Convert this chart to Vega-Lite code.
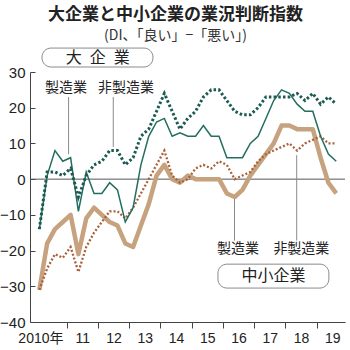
{
  "$schema": "https://vega.github.io/schema/vega-lite/v6.json",
  "width": 315,
  "height": 250,
  "autosize": "none",
  "padding": {"left": 30, "top": 72, "right": 5, "bottom": 28},
  "background": "white",
  "config": {"view": {"stroke": null}},
  "title": {
    "text": "大企業と中小企業の業況判断指数",
    "subtitle": "(DI、「良い」−「悪い」)",
    "anchor": "middle",
    "frame": "group",
    "dx": -12,
    "offset": 4,
    "font": "Noto Sans CJK JP",
    "fontSize": 17,
    "fontWeight": "bold",
    "color": "#222",
    "subtitleFont": "Noto Sans CJK JP",
    "subtitleFontSize": 14,
    "subtitleColor": "#333",
    "subtitlePadding": 5
  },
  "datasets": {
    "series": [
      {"t":2010.125,"s":"LM","v":-14},{"t":2010.375,"s":"LM","v":1},{"t":2010.625,"s":"LM","v":8},{"t":2010.875,"s":"LM","v":5},
      {"t":2011.125,"s":"LM","v":6},{"t":2011.375,"s":"LM","v":-9},{"t":2011.625,"s":"LM","v":2},{"t":2011.875,"s":"LM","v":-4},
      {"t":2012.125,"s":"LM","v":-4},{"t":2012.375,"s":"LM","v":-1},{"t":2012.625,"s":"LM","v":-3},{"t":2012.875,"s":"LM","v":-12},
      {"t":2013.125,"s":"LM","v":-8},{"t":2013.375,"s":"LM","v":4},{"t":2013.625,"s":"LM","v":12},{"t":2013.875,"s":"LM","v":16},
      {"t":2014.125,"s":"LM","v":17},{"t":2014.375,"s":"LM","v":12},{"t":2014.625,"s":"LM","v":13},{"t":2014.875,"s":"LM","v":12},
      {"t":2015.125,"s":"LM","v":12},{"t":2015.375,"s":"LM","v":15},{"t":2015.625,"s":"LM","v":12},{"t":2015.875,"s":"LM","v":12},
      {"t":2016.125,"s":"LM","v":6},{"t":2016.375,"s":"LM","v":6},{"t":2016.625,"s":"LM","v":6},{"t":2016.875,"s":"LM","v":10},
      {"t":2017.125,"s":"LM","v":12},{"t":2017.375,"s":"LM","v":17},{"t":2017.625,"s":"LM","v":22},{"t":2017.875,"s":"LM","v":25},
      {"t":2018.125,"s":"LM","v":24},{"t":2018.375,"s":"LM","v":21},{"t":2018.625,"s":"LM","v":19},{"t":2018.875,"s":"LM","v":19},
      {"t":2019.125,"s":"LM","v":12},{"t":2019.375,"s":"LM","v":7},{"t":2019.625,"s":"LM","v":5},

      {"t":2010.125,"s":"LN","v":-14},{"t":2010.375,"s":"LN","v":2},{"t":2010.625,"s":"LN","v":2},{"t":2010.875,"s":"LN","v":1},
      {"t":2011.125,"s":"LN","v":3},{"t":2011.375,"s":"LN","v":-5},{"t":2011.625,"s":"LN","v":1},{"t":2011.875,"s":"LN","v":4},
      {"t":2012.125,"s":"LN","v":5},{"t":2012.375,"s":"LN","v":8},{"t":2012.625,"s":"LN","v":8},{"t":2012.875,"s":"LN","v":4},
      {"t":2013.125,"s":"LN","v":6},{"t":2013.375,"s":"LN","v":12},{"t":2013.625,"s":"LN","v":14},{"t":2013.875,"s":"LN","v":19},
      {"t":2014.125,"s":"LN","v":24},{"t":2014.375,"s":"LN","v":19},{"t":2014.625,"s":"LN","v":14},{"t":2014.875,"s":"LN","v":17},
      {"t":2015.125,"s":"LN","v":19},{"t":2015.375,"s":"LN","v":23},{"t":2015.625,"s":"LN","v":25},{"t":2015.875,"s":"LN","v":25},
      {"t":2016.125,"s":"LN","v":22},{"t":2016.375,"s":"LN","v":19},{"t":2016.625,"s":"LN","v":18},{"t":2016.875,"s":"LN","v":18},
      {"t":2017.125,"s":"LN","v":20},{"t":2017.375,"s":"LN","v":23},{"t":2017.625,"s":"LN","v":23},{"t":2017.875,"s":"LN","v":23},
      {"t":2018.125,"s":"LN","v":23},{"t":2018.375,"s":"LN","v":24},{"t":2018.625,"s":"LN","v":22},{"t":2018.875,"s":"LN","v":24},
      {"t":2019.125,"s":"LN","v":21},{"t":2019.375,"s":"LN","v":23},{"t":2019.625,"s":"LN","v":21},

      {"t":2010.125,"s":"SM","v":-31},{"t":2010.375,"s":"SM","v":-18},{"t":2010.625,"s":"SM","v":-14},{"t":2010.875,"s":"SM","v":-12},
      {"t":2011.125,"s":"SM","v":-10},{"t":2011.375,"s":"SM","v":-21},{"t":2011.625,"s":"SM","v":-11},{"t":2011.875,"s":"SM","v":-8},
      {"t":2012.125,"s":"SM","v":-10},{"t":2012.375,"s":"SM","v":-12},{"t":2012.625,"s":"SM","v":-13},{"t":2012.875,"s":"SM","v":-18},
      {"t":2013.125,"s":"SM","v":-19},{"t":2013.375,"s":"SM","v":-13},{"t":2013.625,"s":"SM","v":-7},{"t":2013.875,"s":"SM","v":1},
      {"t":2014.125,"s":"SM","v":4},{"t":2014.375,"s":"SM","v":0},{"t":2014.625,"s":"SM","v":-1},{"t":2014.875,"s":"SM","v":1},
      {"t":2015.125,"s":"SM","v":0},{"t":2015.375,"s":"SM","v":0},{"t":2015.625,"s":"SM","v":0},{"t":2015.875,"s":"SM","v":0},
      {"t":2016.125,"s":"SM","v":-4},{"t":2016.375,"s":"SM","v":-5},{"t":2016.625,"s":"SM","v":-3},{"t":2016.875,"s":"SM","v":1},
      {"t":2017.125,"s":"SM","v":4},{"t":2017.375,"s":"SM","v":7},{"t":2017.625,"s":"SM","v":10},{"t":2017.875,"s":"SM","v":15},
      {"t":2018.125,"s":"SM","v":15},{"t":2018.375,"s":"SM","v":14},{"t":2018.625,"s":"SM","v":14},{"t":2018.875,"s":"SM","v":14},
      {"t":2019.125,"s":"SM","v":6},{"t":2019.375,"s":"SM","v":-1},{"t":2019.625,"s":"SM","v":-4},

      {"t":2010.125,"s":"SN","v":-31},{"t":2010.375,"s":"SN","v":-25},{"t":2010.625,"s":"SN","v":-21},{"t":2010.875,"s":"SN","v":-22},
      {"t":2011.125,"s":"SN","v":-19},{"t":2011.375,"s":"SN","v":-26},{"t":2011.625,"s":"SN","v":-19},{"t":2011.875,"s":"SN","v":-15},
      {"t":2012.125,"s":"SN","v":-12},{"t":2012.375,"s":"SN","v":-9},{"t":2012.625,"s":"SN","v":-9},{"t":2012.875,"s":"SN","v":-11},
      {"t":2013.125,"s":"SN","v":-8},{"t":2013.375,"s":"SN","v":-4},{"t":2013.625,"s":"SN","v":0},{"t":2013.875,"s":"SN","v":4},
      {"t":2014.125,"s":"SN","v":8},{"t":2014.375,"s":"SN","v":1},{"t":2014.625,"s":"SN","v":-1},{"t":2014.875,"s":"SN","v":0},
      {"t":2015.125,"s":"SN","v":3},{"t":2015.375,"s":"SN","v":4},{"t":2015.625,"s":"SN","v":3},{"t":2015.875,"s":"SN","v":5},
      {"t":2016.125,"s":"SN","v":4},{"t":2016.375,"s":"SN","v":0},{"t":2016.625,"s":"SN","v":1},{"t":2016.875,"s":"SN","v":2},
      {"t":2017.125,"s":"SN","v":5},{"t":2017.375,"s":"SN","v":7},{"t":2017.625,"s":"SN","v":8},{"t":2017.875,"s":"SN","v":9},
      {"t":2018.125,"s":"SN","v":10},{"t":2018.375,"s":"SN","v":8},{"t":2018.625,"s":"SN","v":10},{"t":2018.875,"s":"SN","v":11},
      {"t":2019.125,"s":"SN","v":12},{"t":2019.375,"s":"SN","v":10},{"t":2019.625,"s":"SN","v":10}
    ],
    "zero": [{"t": 2009.826, "t2": 2019.906, "v": 0}],
    "boxes": [
      {"t": 2010.21, "t2": 2013.76, "v": 36.7, "v2": 31.4},
      {"t": 2015.84, "t2": 2019.39, "v": -23.8, "v2": -30.5}
    ],
    "leaders": [
      {"t": 2011.06, "v": 23, "v2": 7},
      {"t": 2012.49, "v": 23, "v2": 9},
      {"t": 2016.37, "v": -5.3, "v2": -17.2},
      {"t": 2018.36, "v": 6.7, "v2": -17.2}
    ],
    "labels": [
      {"t": 2010.98, "v": 25.5, "label": "製造業"},
      {"t": 2012.9, "v": 25.5, "label": "非製造業"},
      {"t": 2016.48, "v": -19.6, "label": "製造業"},
      {"t": 2018.51, "v": -19.6, "label": "非製造業"}
    ],
    "boxlabels": [
      {"t": 2011.99, "v": 34.0, "label": "大\u2002企\u2002業"},
      {"t": 2017.62, "v": -27.2, "label": "中小企業"}
    ]
  },
  "encoding": {
    "x": {
      "field": "t",
      "type": "quantitative",
      "scale": {"domain": [2009.826, 2019.906], "nice": false, "zero": false},
      "axis": {
        "values": [2010.5, 2011.5, 2012.5, 2013.5, 2014.5, 2015.5, 2016.5, 2017.5, 2018.5, 2019.5],
        "tickOffset": -15.625,
        "labelOffset": {"condition": {"test": "datum.value < 2011", "value": 5}, "value": 15.625},
        "tickOpacity": {"condition": {"test": "datum.value < 2011", "value": 0}, "value": 1},
        "labelExpr": "datum.value < 2011 ? '2010年' : '' + (floor(datum.value) - 2000)",
        "title": null,
        "grid": false,
        "domainColor": "#444",
        "tickColor": "#444",
        "tickSize": 6,
        "labelPadding": 3,
        "labelFontSize": 14,
        "labelColor": "#222",
        "labelFont": "Liberation Sans, Noto Sans CJK JP",
        "labelOverlap": false,
        "labelBound": false,
        "labelFlush": false
      }
    },
    "y": {
      "field": "v",
      "type": "quantitative",
      "scale": {"domain": [-40, 30], "nice": false, "zero": false},
      "axis": {
        "values": [-40, -30, -20, -10, 0, 10, 20, 30],
        "title": null,
        "grid": false,
        "domainColor": "#444",
        "tickColor": "#444",
        "tickSize": -5,
        "labelPadding": 10,
        "labelFontSize": 15,
        "labelColor": "#222",
        "labelFont": "Liberation Sans",
        "labelFlush": false,
        "labelOverlap": false
      }
    }
  },
  "layer": [
    {
      "data": {"name": "boxes"},
      "mark": {"type": "rect", "cornerRadius": 9, "fill": "white", "stroke": "#8a8a8a", "strokeWidth": 1},
      "encoding": {"x2": {"field": "t2"}, "y2": {"field": "v2"}}
    },
    {
      "data": {"name": "zero"},
      "mark": {"type": "rule", "color": "#555", "strokeWidth": 1},
      "encoding": {"x2": {"field": "t2"}}
    },
    {
      "data": {"name": "leaders"},
      "mark": {"type": "rule", "color": "#8a8a8a", "strokeWidth": 1},
      "encoding": {"y2": {"field": "v2"}}
    },
    {
      "data": {"name": "series"},
      "transform": [{"filter": "datum.s == 'SM'"}],
      "mark": {"type": "line", "color": "#c6a27e", "strokeWidth": 4.5, "strokeJoin": "round"},
      "encoding": {}
    },
    {
      "data": {"name": "series"},
      "transform": [{"filter": "datum.s == 'SN'"}],
      "mark": {"type": "line", "color": "#a8623a", "strokeWidth": 2.3, "strokeDash": [2, 2]},
      "encoding": {}
    },
    {
      "data": {"name": "series"},
      "transform": [{"filter": "datum.s == 'LM'"}],
      "mark": {"type": "line", "color": "#236e5f", "strokeWidth": 1.5},
      "encoding": {}
    },
    {
      "data": {"name": "series"},
      "transform": [{"filter": "datum.s == 'LN'"}],
      "mark": {"type": "line", "color": "#1d5a54", "strokeWidth": 3, "strokeDash": [2.5, 2.2]},
      "encoding": {}
    },
    {
      "data": {"name": "labels"},
      "mark": {"type": "text", "font": "Noto Sans CJK JP", "fontSize": 14, "color": "#222", "baseline": "middle", "align": "center"},
      "encoding": {"text": {"field": "label"}}
    },
    {
      "data": {"name": "boxlabels"},
      "mark": {"type": "text", "font": "Noto Sans CJK JP", "fontSize": 16, "color": "#222", "baseline": "middle", "align": "center"},
      "encoding": {"text": {"field": "label"}}
    }
  ]
}
